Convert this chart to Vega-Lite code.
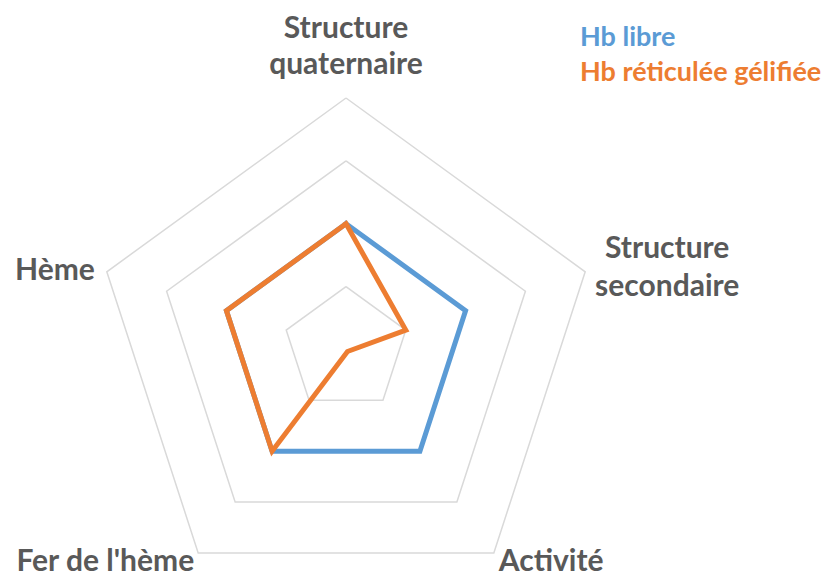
{
  "$schema": "https://vega.github.io/schema/vega-lite/v6.json",
  "width": 826,
  "height": 574,
  "autosize": {"type": "none"},
  "padding": 0,
  "background": "white",
  "config": {"view": {"stroke": null}},
  "datasets": {
    "series": [
      {"series": "Hb libre", "axis": "Structure quaternaire", "idx": 0, "value": 2},
      {"series": "Hb libre", "axis": "Structure secondaire", "idx": 1, "value": 2},
      {"series": "Hb libre", "axis": "Activité", "idx": 2, "value": 2},
      {"series": "Hb libre", "axis": "Fer de l'hème", "idx": 3, "value": 2},
      {"series": "Hb libre", "axis": "Hème", "idx": 4, "value": 2},
      {"series": "Hb libre", "axis": "Structure quaternaire", "idx": 5, "value": 2},
      {"series": "Hb réticulée gélifiée", "axis": "Structure quaternaire", "idx": 0, "value": 2},
      {"series": "Hb réticulée gélifiée", "axis": "Structure secondaire", "idx": 1, "value": 1},
      {"series": "Hb réticulée gélifiée", "axis": "Activité", "idx": 2, "value": 0.04},
      {"series": "Hb réticulée gélifiée", "axis": "Fer de l'hème", "idx": 3, "value": 2},
      {"series": "Hb réticulée gélifiée", "axis": "Hème", "idx": 4, "value": 2},
      {"series": "Hb réticulée gélifiée", "axis": "Structure quaternaire", "idx": 5, "value": 2}
    ],
    "grid": [
      {"level": 1, "idx": 0}, {"level": 1, "idx": 1}, {"level": 1, "idx": 2}, {"level": 1, "idx": 3}, {"level": 1, "idx": 4}, {"level": 1, "idx": 5},
      {"level": 2, "idx": 0}, {"level": 2, "idx": 1}, {"level": 2, "idx": 2}, {"level": 2, "idx": 3}, {"level": 2, "idx": 4}, {"level": 2, "idx": 5},
      {"level": 3, "idx": 0}, {"level": 3, "idx": 1}, {"level": 3, "idx": 2}, {"level": 3, "idx": 3}, {"level": 3, "idx": 4}, {"level": 3, "idx": 5},
      {"level": 4, "idx": 0}, {"level": 4, "idx": 1}, {"level": 4, "idx": 2}, {"level": 4, "idx": 3}, {"level": 4, "idx": 4}, {"level": 4, "idx": 5}
    ],
    "axes": [
      {"idx": 0, "label": "Structure\nquaternaire"},
      {"idx": 1, "label": "Structure\nsecondaire"},
      {"idx": 2, "label": "Activité"},
      {"idx": 3, "label": "Fer de l'hème"},
      {"idx": 4, "label": "Hème"}
    ]
  },
  "layer": [
    {
      "data": {"name": "grid"},
      "transform": [
        {"calculate": "datum.idx * 2 * PI / 5", "as": "ang"},
        {"calculate": "datum.level * sin(datum.ang)", "as": "px"},
        {"calculate": "datum.level * cos(datum.ang)", "as": "py"}
      ],
      "mark": {"type": "line", "stroke": "#D9D9D9", "strokeWidth": 1.5},
      "encoding": {
        "x": {"field": "px", "type": "quantitative", "scale": {"domain": [-5.503, 7.634], "nice": false, "zero": false}, "axis": null},
        "y": {"field": "py", "type": "quantitative", "scale": {"domain": [-3.571, 5.559], "nice": false, "zero": false}, "axis": null},
        "detail": {"field": "level", "type": "nominal"},
        "order": {"field": "idx", "type": "quantitative"}
      }
    },
    {
      "data": {"name": "series"},
      "transform": [
        {"calculate": "datum.idx * 2 * PI / 5", "as": "ang"},
        {"calculate": "datum.value * sin(datum.ang)", "as": "px"},
        {"calculate": "datum.value * cos(datum.ang)", "as": "py"}
      ],
      "mark": {"type": "line", "strokeWidth": 5, "strokeJoin": "miter", "strokeCap": "square"},
      "encoding": {
        "x": {"field": "px", "type": "quantitative"},
        "y": {"field": "py", "type": "quantitative"},
        "order": {"field": "idx", "type": "quantitative"},
        "color": {
          "field": "series",
          "type": "nominal",
          "scale": {"domain": ["Hb libre", "Hb réticulée gélifiée"], "range": ["#5B9BD5", "#ED7D31"]},
          "legend": {
            "orient": "none",
            "legendX": 553,
            "legendY": 24,
            "title": null,
            "direction": "vertical",
            "symbolSize": 0,
            "symbolOpacity": 0,
            "symbolStrokeWidth": 0,
            "labelOffset": 0,
            "labelFont": "Lato",
            "labelFontSize": 27,
            "labelFontWeight": "bold",
            "labelLimit": 400,
            "rowPadding": 7,
            "encode": {"labels": {"update": {"fill": {"scale": "color", "field": "value"}}}}
          }
        }
      }
    },
    {
      "data": {"name": "axes"},
      "transform": [
        {"filter": "datum.idx == 0"},
        {"calculate": "4 * sin(datum.idx * 2 * PI / 5)", "as": "px"},
        {"calculate": "4 * cos(datum.idx * 2 * PI / 5)", "as": "py"}
      ],
      "mark": {"type": "text", "font": "Lato", "fontSize": 30, "fontWeight": "bold", "fill": "#595959", "lineBreak": "\n", "lineHeight": 36, "align": "center", "baseline": "alphabetic", "dy": -60},
      "encoding": {
        "x": {"field": "px", "type": "quantitative"},
        "y": {"field": "py", "type": "quantitative"},
        "text": {"field": "label"}
      }
    },
    {
      "data": {"name": "axes"},
      "transform": [
        {"filter": "datum.idx == 1"},
        {"calculate": "4 * sin(datum.idx * 2 * PI / 5)", "as": "px"},
        {"calculate": "4 * cos(datum.idx * 2 * PI / 5)", "as": "py"}
      ],
      "mark": {"type": "text", "font": "Lato", "fontSize": 30, "fontWeight": "bold", "fill": "#595959", "lineBreak": "\n", "lineHeight": 38, "align": "center", "baseline": "alphabetic", "dx": 82, "dy": -14},
      "encoding": {
        "x": {"field": "px", "type": "quantitative"},
        "y": {"field": "py", "type": "quantitative"},
        "text": {"field": "label"}
      }
    },
    {
      "data": {"name": "axes"},
      "transform": [
        {"filter": "datum.idx == 2"},
        {"calculate": "4 * sin(datum.idx * 2 * PI / 5)", "as": "px"},
        {"calculate": "4 * cos(datum.idx * 2 * PI / 5)", "as": "py"}
      ],
      "mark": {"type": "text", "font": "Lato", "fontSize": 30, "fontWeight": "bold", "fill": "#595959", "align": "left", "baseline": "alphabetic", "dx": 5, "dy": 18},
      "encoding": {
        "x": {"field": "px", "type": "quantitative"},
        "y": {"field": "py", "type": "quantitative"},
        "text": {"field": "label"}
      }
    },
    {
      "data": {"name": "axes"},
      "transform": [
        {"filter": "datum.idx == 3"},
        {"calculate": "4 * sin(datum.idx * 2 * PI / 5)", "as": "px"},
        {"calculate": "4 * cos(datum.idx * 2 * PI / 5)", "as": "py"}
      ],
      "mark": {"type": "text", "font": "Lato", "fontSize": 30, "fontWeight": "bold", "fill": "#595959", "align": "right", "baseline": "alphabetic", "dx": -4, "dy": 18},
      "encoding": {
        "x": {"field": "px", "type": "quantitative"},
        "y": {"field": "py", "type": "quantitative"},
        "text": {"field": "label"}
      }
    },
    {
      "data": {"name": "axes"},
      "transform": [
        {"filter": "datum.idx == 4"},
        {"calculate": "4 * sin(datum.idx * 2 * PI / 5)", "as": "px"},
        {"calculate": "4 * cos(datum.idx * 2 * PI / 5)", "as": "py"}
      ],
      "mark": {"type": "text", "font": "Lato", "fontSize": 30, "fontWeight": "bold", "fill": "#595959", "align": "right", "baseline": "alphabetic", "dx": -12, "dy": 8},
      "encoding": {
        "x": {"field": "px", "type": "quantitative"},
        "y": {"field": "py", "type": "quantitative"},
        "text": {"field": "label"}
      }
    }
  ]
}
